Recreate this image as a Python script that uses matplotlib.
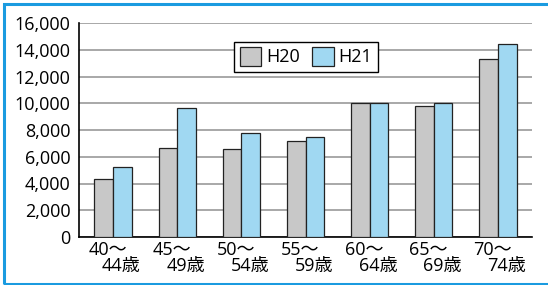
import numpy as np
import matplotlib.pyplot as plt
from matplotlib.patches import Rectangle
import matplotlib.transforms as mtransforms

plt.rcParams['font.family'] = ['Open Sans', 'Noto Sans CJK JP', 'DejaVu Sans']

age_from = ["40～", "45～", "50～", "55～", "60～", "65～", "70～"]
age_to = ["44歳", "49歳", "54歳", "59歳", "64歳", "69歳", "74歳"]
h20 = [4300, 6650, 6580, 7200, 10000, 9820, 13330]
h21 = [5200, 9650, 7780, 7450, 10050, 10040, 14450]
yticks = [0, 2000, 4000, 6000, 8000, 10000, 12000, 14000, 16000]

gray = '#c8c8c8'
blue = '#a0d8f2'
fs = 13

fig = plt.figure(figsize=(5.48, 2.85), dpi=100)
ax = fig.add_axes([79 / 548, 1 - 237 / 285, 453 / 548, 214 / 285])

x = np.arange(len(h20))
w = 0.29
ax.bar(x - w / 2, h20, w, color=gray, edgecolor='#222222', linewidth=0.9, label='H20', zorder=3)
ax.bar(x + w / 2, h21, w, color=blue, edgecolor='#222222', linewidth=0.9, label='H21', zorder=3)

ax.set_xlim(-0.53, 6.53)
ax.set_ylim(0, 16000)
ax.set_yticks(yticks)
ax.set_yticklabels([f"{v:,}" for v in yticks], fontsize=fs)
ax.yaxis.grid(True, color='#999999', linewidth=1.2, zorder=0)
ax.tick_params(axis='y', length=0, pad=6)
ax.set_xticks(x)
ax.set_xticklabels([])
ax.tick_params(axis='x', length=0)

for s in ['top', 'right']:
    ax.spines[s].set_visible(False)
ax.spines['left'].set_linewidth(1.2)
ax.spines['bottom'].set_linewidth(1.2)

trans = mtransforms.blended_transform_factory(ax.transData, ax.transAxes)
for i in x:
    ax.text(i - 0.08, -0.02, age_from[i], transform=trans, ha='center', va='top', fontsize=fs)
    ax.text(i + 0.13, -0.095, age_to[i], transform=trans, ha='center', va='top', fontsize=fs)

leg = ax.legend(loc='upper center', bbox_to_anchor=(0.501, 0.955), ncol=2, fontsize=fs,
                frameon=True, fancybox=False, edgecolor='black', framealpha=1,
                handlelength=1.2, handleheight=1.2, handletextpad=0.25, columnspacing=0.7,
                borderpad=0.3)
leg.get_frame().set_linewidth(1.0)

fig.patches.append(Rectangle((4 / 548, 1 / 285), 1.2, 280 / 285, transform=fig.transFigure,
                             fill=False, edgecolor='#1a9be0', linewidth=2.2))

fig.savefig('out.png', dpi=100)
